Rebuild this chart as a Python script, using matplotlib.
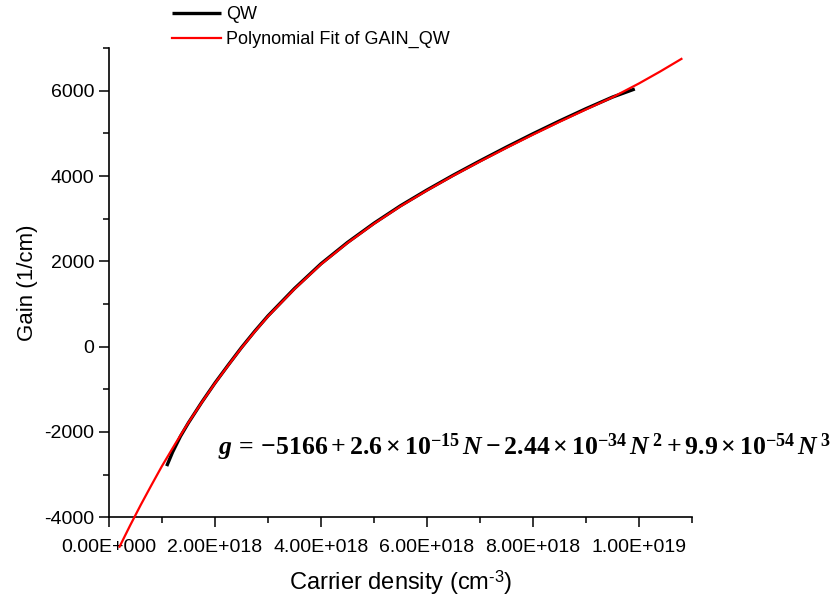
import matplotlib
matplotlib.use("Agg")
import matplotlib.pyplot as plt
from matplotlib.ticker import MultipleLocator, FixedLocator, FixedFormatter

# ---------------- data (carrier density in units of 1e18 cm^-3) ----------------
qw_density = [1.09, 1.2, 1.35, 1.5, 1.75, 2.0, 2.25, 2.5, 2.75, 3.0, 3.5, 4.0,
              4.5, 5.0, 5.5, 6.0, 6.5, 7.0, 7.5, 8.0, 8.5, 9.0, 9.5, 9.92]
qw_gain = [-2800, -2474, -2100, -1785, -1305, -853, -432, -22, 360, 720, 1362,
           1942, 2442, 2892, 3302, 3672, 4022, 4355, 4678, 4990, 5290, 5578,
           5850, 6040]

fit_density = [0.2, 0.4, 0.6, 0.8, 1.0, 1.25, 1.5, 1.75, 2.0, 2.25, 2.5, 2.75,
               3.0, 3.5, 4.0, 4.5, 5.0, 5.5, 6.0, 6.5, 7.0, 7.5, 8.0, 8.5, 9.0,
               9.5, 10.0, 10.4, 10.8]
fit_gain = [-4690, -4190, -3710, -3250, -2800, -2280, -1780, -1310, -860, -440,
            -30, 350, 710, 1350, 1930, 2430, 2880, 3290, 3660, 4010, 4340, 4660,
            4970, 5270, 5560, 5845, 6170, 6450, 6745]

x_ticks = [0, 2e18, 4e18, 6e18, 8e18, 1e19]
x_tick_labels = ["0.00E+000", "2.00E+018", "4.00E+018", "6.00E+018",
                 "8.00E+018", "1.00E+019"]
y_ticks = [-4000, -2000, 0, 2000, 4000, 6000]
y_tick_labels = ["-4000", "-2000", "0", "2000", "4000", "6000"]

series_labels = ["QW", "Polynomial Fit of GAIN_QW"]
equation = (r"$g\,=\,{-}5166+2.6\times10^{-15}\,N-2.44\times10^{-34}\,N^{\,2}"
            r"+9.9\times10^{-54}\,N^{\,3}$")

SCALE = 1e18

# ---------------- style ----------------
plt.rcParams["font.family"] = ["Liberation Sans", "DejaVu Sans"]
plt.rcParams["mathtext.fontset"] = "custom"
plt.rcParams["mathtext.rm"] = "Liberation Serif:bold"
plt.rcParams["mathtext.it"] = "Liberation Serif:italic:bold"
plt.rcParams["mathtext.bf"] = "Liberation Serif:bold"

fig = plt.figure(figsize=(8.38, 6.01), dpi=100)
ax = fig.add_axes([0.130, 0.1393, 0.6958, 0.7808])

xd = [v * SCALE for v in qw_density]
xf = [v * SCALE for v in fit_density]
l1, = ax.plot(xd, qw_gain, color="black", lw=2.4, solid_capstyle="butt",
              solid_joinstyle="round", zorder=2)
l2, = ax.plot(xf, fit_gain, color="#ff0000", lw=1.6, clip_on=False,
              solid_joinstyle="round", zorder=3)

ax.set_xlim(0, 1.1e19)
ax.set_ylim(-4000, 7000)

ax.xaxis.set_major_locator(FixedLocator(x_ticks))
ax.xaxis.set_major_formatter(FixedFormatter(x_tick_labels))
ax.xaxis.set_minor_locator(MultipleLocator(1e18))
ax.yaxis.set_major_locator(FixedLocator(y_ticks))
ax.yaxis.set_major_formatter(FixedFormatter(y_tick_labels))
ax.yaxis.set_minor_locator(MultipleLocator(1000))

for s in ("top", "right"):
    ax.spines[s].set_visible(False)
for s in ("left", "bottom"):
    ax.spines[s].set_linewidth(1.2)

ax.tick_params(which="major", direction="out", length=7.5, width=1.1)
ax.tick_params(which="minor", direction="out", length=4.2, width=1.1)
ax.tick_params(axis="x", which="major", pad=8)
ax.tick_params(axis="y", which="major", pad=3)

for lab in ax.get_xticklabels() + ax.get_yticklabels():
    lab.set_fontfamily(["Liberation Sans Narrow", "Liberation Sans", "DejaVu Sans"])
    lab.set_fontsize(14)

ax.set_xlabel("Carrier density (cm$^{\\mathregular{\u20103}}$)", fontsize=17, labelpad=9)
ax.set_ylabel("Gain (1/cm)", fontsize=16, labelpad=4.5)

fig.text(218 / 838, 1 - 455 / 601, equation, fontsize=18.5, ha="left", va="baseline")

fig.legend([l1, l2], series_labels, loc="upper left",
           bbox_to_anchor=(172 / 838, 1 - 6 / 601), frameon=False, fontsize=13,
           handlelength=2.7, handletextpad=0.3, labelspacing=0.45,
           borderpad=0, borderaxespad=0)

fig.savefig("out.png", dpi=100)
